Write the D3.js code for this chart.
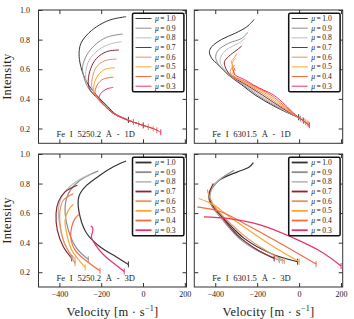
<!DOCTYPE html>
<html><head><meta charset="utf-8">
<script src="https://cdn.jsdelivr.net/npm/d3@7"></script>
<style>
body{margin:0;background:#fff}
svg{display:block}
text{font-family:"Liberation Serif","DejaVu Serif",serif;fill:#222}
</style>
</head><body><svg id="c" width="354" height="319"></svg>
<script>
// ---------- data ----------
const mus = ["1.0","0.9","0.8","0.7","0.6","0.5","0.4","0.3"];
const xTicks = [-400,-200,0,200];
const yTicks = [0.2,0.4,0.6,0.8,1.0];
const xLabels = ["\u2212400","\u2212200","0","200"];
const yLabels = ["0.2","0.4","0.6","0.8","1.0"];
const panelLabels = ["Fe I 5250.2 \u00C5 - 1D","Fe I 6301.5 \u00C5 - 1D","Fe I 5250.2 \u00C5 - 3D","Fe I 6301.5 \u00C5 - 3D"];

// [velocity (m/s), intensity] for mu = 1.0 ... 0.3
const fe5250_1d = [
 [[-81,0.955],[-158,0.933],[-222,0.887],[-269,0.831],[-297,0.775],[-306,0.708],[-298,0.62],[-272,0.52],[-240,0.455],[-206,0.40],[-170,0.35],[-134,0.30],[-70,0.258]],
 [[-97,0.838],[-174,0.816],[-230,0.764],[-269,0.696],[-289,0.617],[-285,0.56],[-266,0.482],[-236,0.43],[-212,0.398],[-178,0.35],[-143,0.305],[-100,0.272],[-46,0.245]],
 [[-102,0.786],[-158,0.770],[-214,0.730],[-257,0.662],[-274,0.583],[-269,0.50],[-240,0.44],[-214,0.399],[-179,0.35],[-144,0.305],[-100,0.272],[-50,0.245],[-22,0.232]],
 [[-115,0.730],[-174,0.719],[-222,0.674],[-250,0.606],[-262,0.527],[-257,0.47],[-236,0.43],[-215,0.40],[-180,0.35],[-145,0.305],[-100,0.272],[-50,0.245],[1,0.221]],
 [[-126,0.669],[-182,0.658],[-222,0.617],[-241,0.55],[-245,0.482],[-232,0.435],[-215,0.40],[-180,0.35],[-145,0.305],[-100,0.272],[-50,0.245],[0,0.221],[25,0.211]],
 [[-134,0.610],[-182,0.600],[-214,0.561],[-233,0.505],[-235,0.45],[-216,0.40],[-180,0.35],[-145,0.305],[-100,0.272],[-50,0.245],[0,0.221],[49,0.199]],
 [[-142,0.546],[-190,0.534],[-219,0.494],[-230,0.438],[-217,0.40],[-181,0.35],[-145,0.305],[-100,0.272],[-50,0.245],[0,0.221],[50,0.199],[66,0.188]],
 [[-142,0.478],[-177,0.465],[-201,0.438],[-211,0.405],[-205,0.39],[-182,0.35],[-146,0.305],[-100,0.272],[-50,0.245],[0,0.221],[50,0.199],[85,0.174]]
];
const fe6301_1d = [
 [[-214,0.937],[-249,0.887],[-305,0.843],[-369,0.802],[-417,0.752],[-428,0.718],[-417,0.674],[-385,0.629],[-337,0.561],[-273,0.494],[-210,0.426],[-130,0.359],[-50,0.303],[-2,0.276]],
 [[-245,0.849],[-273,0.809],[-337,0.775],[-385,0.730],[-398,0.685],[-388,0.64],[-335,0.561],[-266,0.494],[-200,0.426],[-122,0.359],[-47,0.303],[6,0.266]],
 [[-257,0.809],[-289,0.775],[-337,0.741],[-369,0.696],[-377,0.651],[-362,0.61],[-330,0.561],[-259,0.494],[-188,0.426],[-114,0.359],[-44,0.303],[14,0.259]],
 [[-273,0.757],[-297,0.730],[-337,0.685],[-356,0.651],[-353,0.617],[-328,0.561],[-251,0.494],[-175,0.426],[-104,0.359],[-40,0.303],[22,0.253]],
 [[-297,0.707],[-308,0.680],[-324,0.651],[-318,0.622],[-329,0.584],[-322,0.56],[-280,0.525],[-243,0.494],[-162,0.426],[-95,0.359],[-36,0.303],[30,0.244]],
 [[-300,0.674],[-313,0.658],[-318,0.617],[-305,0.595],[-321,0.568],[-315,0.55],[-275,0.522],[-235,0.494],[-148,0.426],[-85,0.359],[-33,0.303],[38,0.237]],
 [[-308,0.629],[-318,0.599],[-308,0.572],[-312,0.555],[-268,0.525],[-226,0.494],[-135,0.426],[-76,0.359],[-29,0.303],[43,0.230]],
 [[-308,0.606],[-313,0.584],[-305,0.561],[-260,0.53],[-218,0.494],[-170,0.46],[-122,0.426],[-66,0.359],[-26,0.303],[49,0.222]]
];
const fe5250_3d = [
 [[-81,0.953],[-140,0.915],[-206,0.856],[-269,0.789],[-301,0.733],[-310,0.687],[-301,0.575],[-269,0.462],[-206,0.372],[-142,0.316],[-70,0.253]],
 [[-214,0.886],[-301,0.822],[-357,0.732],[-373,0.631],[-357,0.485],[-317,0.361],[-262,0.287]],
 [[-246,0.868],[-333,0.800],[-389,0.710],[-405,0.620],[-397,0.507],[-373,0.384],[-325,0.287]],
 [[-314,0.789],[-373,0.744],[-405,0.676],[-416,0.597],[-410,0.485],[-381,0.372],[-341,0.294]],
 [[-333,0.732],[-381,0.687],[-397,0.620],[-397,0.530],[-381,0.417],[-325,0.260]],
 [[-333,0.660],[-357,0.620],[-373,0.552],[-365,0.462],[-341,0.350],[-277,0.233]],
 [[-305,0.593],[-325,0.564],[-341,0.507],[-346,0.440],[-325,0.350],[-206,0.210]],
 [[-250,0.512],[-241,0.503],[-241,0.474],[-247,0.44],[-230,0.39],[-190,0.32],[-142,0.262],[-90,0.205]]
];
const fe6301_3d = [
 [[-218,0.942],[-238,0.912],[-294,0.879],[-342,0.852],[-382,0.822],[-414,0.777],[-430,0.721],[-422,0.665],[-374,0.586],[-262,0.429],[-135,0.327],[-7,0.271]],
 [[-310,0.89],[-382,0.822],[-422,0.744],[-418,0.654],[-380,0.58],[-286,0.43],[-190,0.34],[-95,0.282]],
 [[-366,0.845],[-414,0.777],[-427,0.71],[-406,0.631],[-330,0.51],[-262,0.406],[-170,0.33],[-79,0.275]],
 [[-409,0.80],[-430,0.721],[-414,0.654],[-360,0.56],[-294,0.451],[-198,0.35],[-119,0.294]],
 [[-438,0.759],[-425,0.699],[-390,0.62],[-320,0.52],[-246,0.429],[-150,0.34],[-71,0.276]],
 [[-478,0.699],[-406,0.654],[-342,0.586],[-182,0.429],[-90,0.345],[1,0.271]],
 [[-486,0.642],[-374,0.609],[-262,0.53],[-103,0.406],[81,0.255]],
 [[-454,0.575],[-342,0.564],[-182,0.519],[-23,0.429],[105,0.339],[200,0.242]]
];

// ---------- styles ----------
const colors = ["#333333","#8c8c8c","#bdbdbd","#8e2532","#e5955c","#ffa530","#f86a3c","#e8346a"];

const svg = d3.select("#c");
const panels = [
 {data:fe5250_1d, x0:38.5, x1:186.5, y0:10, y1:143.3, label:panelLabels[0], left:true, bottom:false, lw:1.0, llw:1.0},
 {data:fe6301_1d, x0:194.3, x1:342.7, y0:10, y1:143.3, label:panelLabels[1], left:false, bottom:false, lw:1.0, llw:1.0},
 {data:fe5250_3d, x0:38.5, x1:186.5, y0:154, y1:287, label:panelLabels[2], left:true, bottom:true, lw:1.2, llw:1.8},
 {data:fe6301_3d, x0:194.3, x1:342.7, y0:154, y1:287, label:panelLabels[3], left:false, bottom:true, lw:1.2, llw:1.8}
];

panels.forEach((p,pi)=>{
  const x = d3.scaleLinear().domain([-500,208]).range([p.x0,p.x1]);
  const y = d3.scaleLinear().domain([0.1,1.0]).range([p.y1,p.y0]);
  const g = svg.append("g");
  const cid = "clip"+pi;
  svg.append("clipPath").attr("id",cid).append("rect")
    .attr("x",p.x0).attr("y",p.y0).attr("width",p.x1-p.x0).attr("height",p.y1-p.y0);

  const fmtX = d => p.bottom ? xLabels[xTicks.indexOf(d)] : "";
  const fmtY = d => p.left ? yLabels[yTicks.indexOf(d)] : "";
  const ax = [
    g.append("g").attr("transform",`translate(0,${p.y1})`).call(d3.axisBottom(x).tickValues(xTicks).tickSizeInner(-4).tickSizeOuter(0).tickPadding(4).tickFormat(fmtX)),
    g.append("g").attr("transform",`translate(0,${p.y0})`).call(d3.axisTop(x).tickValues(xTicks).tickSizeInner(-4).tickSizeOuter(0).tickFormat("")),
    g.append("g").attr("transform",`translate(${p.x0},0)`).call(d3.axisLeft(y).tickValues(yTicks).tickSizeInner(-4).tickSizeOuter(0).tickPadding(8.5).tickFormat(fmtY)),
    g.append("g").attr("transform",`translate(${p.x1},0)`).call(d3.axisRight(y).tickValues(yTicks).tickSizeInner(-4).tickSizeOuter(0).tickFormat(""))
  ];
  ax.forEach(a=>{
    a.select(".domain").remove();
    a.selectAll("line").attr("stroke","#333").attr("stroke-width",1);
    a.selectAll("text").attr("font-size",8).attr("font-family","'Liberation Serif',serif").attr("fill","#222");
  });

  const line = d3.line().x(d=>x(d[0])).y(d=>y(d[1])).curve(d3.curveCatmullRom.alpha(0.5));
  const cg = g.append("g").attr("clip-path",`url(#${cid})`);
  p.data.forEach((s,i)=>{
    cg.append("path").attr("d",line(s)).attr("fill","none")
      .attr("stroke",colors[i]).attr("stroke-width",p.lw);
    const e = s[s.length-1];
    cg.append("line").attr("x1",x(e[0])).attr("x2",x(e[0]))
      .attr("y1",y(e[1])-3).attr("y2",y(e[1])+3)
      .attr("stroke",colors[i]).attr("stroke-width",1);
  });

  g.append("rect").attr("x",p.x0).attr("y",p.y0).attr("width",p.x1-p.x0).attr("height",p.y1-p.y0)
    .attr("fill","none").attr("stroke","#333").attr("stroke-width",1);

  // panel label
  g.append("text").attr("x",p.x0+18).attr("y",p.y1-6.5)
    .attr("font-size",8.6).attr("word-spacing",2.6).text(p.label);

  // legend
  const lw = 51.4, lh = 78.5;
  const lx = p.x1-2.6-lw, ly = p.y0+3.2;
  const lg = g.append("g");
  lg.append("rect").attr("x",lx).attr("y",ly).attr("width",lw).attr("height",lh).attr("rx",1.5)
    .attr("fill","#fff").attr("stroke","#111").attr("stroke-width",1.5);
  mus.forEach((m,i)=>{
    const yy = ly+5.3+i*9.67;
    lg.append("line").attr("x1",lx+3).attr("x2",lx+19).attr("y1",yy).attr("y2",yy)
      .attr("stroke",colors[i]).attr("stroke-width",p.llw);
    const t = lg.append("text").attr("x",lx+22.5).attr("y",yy+2.5).attr("font-size",7.6);
    t.append("tspan").attr("font-style","italic").text("\u03BC");
    t.append("tspan").text("\u2009=\u2009" + m);
  });

  if(p.left){
    svg.append("text").attr("transform",`translate(11,${(p.y0+p.y1)/2}) rotate(-90)`)
      .attr("text-anchor","middle").attr("font-size",12.5).attr("letter-spacing",0.3).text("Intensity");
  }
  if(p.bottom){
    const t = svg.append("text").attr("x",(p.x0+p.x1)/2).attr("y",316).attr("text-anchor","middle")
      .attr("font-size",12.5).attr("letter-spacing",0.3);
    t.append("tspan").text("Velocity [m \u00B7 s");
    t.append("tspan").attr("font-size",8).attr("dy",-5).text("\u22121");
    t.append("tspan").attr("dy",5).text("]");
  }
});
</script>
</body></html>
